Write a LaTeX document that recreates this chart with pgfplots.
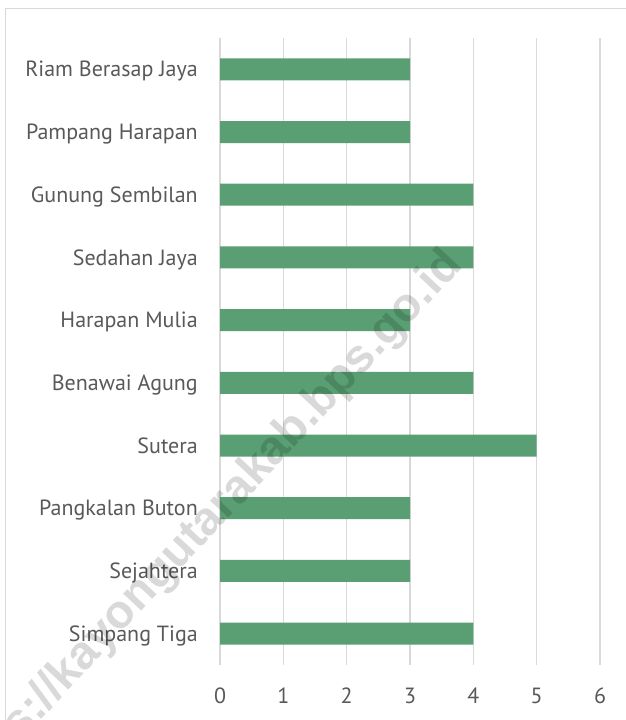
\documentclass[border=0pt]{standalone}
\usepackage{fontspec}
\setmainfont{PT Sans}
\newfontfamily\wmfont{Liberation Sans}
\usepackage{pgfplots}
\pgfplotsset{compat=1.18}
\definecolor{bargreen}{RGB}{89,159,115}
\definecolor{gridgray}{RGB}{217,217,217}
\definecolor{textgray}{RGB}{89,89,89}
\begin{document}
\begin{tikzpicture}[x=1pt,y=1pt]
  \useasboundingbox (0,0) rectangle (626,720);
  \fill[white] (0,0) rectangle (626,720);
  \draw[gridgray, line width=1pt] (5,-2) -- (5,711) -- (630,711);
  \begin{axis}[
      at={(220pt,55pt)}, anchor=south west,
      scale only axis,
      width=380pt, height=627pt,
      xbar, bar width=22pt,
      xmin=0, xmax=6,
      ymin=-0.5, ymax=9.5,
      xtick={0,1,2,3,4,5,6},
      ytick=data,
      yticklabels={Simpang Tiga, Sejahtera, Pangkalan Buton, Sutera, Benawai Agung,
        Harapan Mulia, Sedahan Jaya, Gunung Sembilan, Pampang Harapan, Riam Berasap Jaya},
      axis line style={draw=none},
      major tick length=0pt,
      xmajorgrids,
      grid style={gridgray, line width=1.3pt},
      /pgf/number format/assume math mode=true,
      tick label style={font=\fontsize{22}{26}\selectfont, text=textgray, inner sep=0pt},
      yticklabel style={anchor=base east, xshift=-22pt, yshift=-7.6pt},
      xticklabel style={anchor=base, yshift=-38.6pt},
    ]
    \addplot[fill=bargreen, draw=none] coordinates {
      (4,0) (3,1) (3,2) (5,3) (4,4) (3,5) (4,6) (4,7) (3,8) (3,9)};
  \end{axis}
  % watermark of the source site
  \node[rotate=47, anchor=east, inner sep=0pt, text=black, opacity=0.15,
        font=\wmfont\bfseries\fontsize{47}{50}\selectfont]
    at (455,462) {https://kayongutarakab.bps.go.id};
\end{tikzpicture}
\end{document}
